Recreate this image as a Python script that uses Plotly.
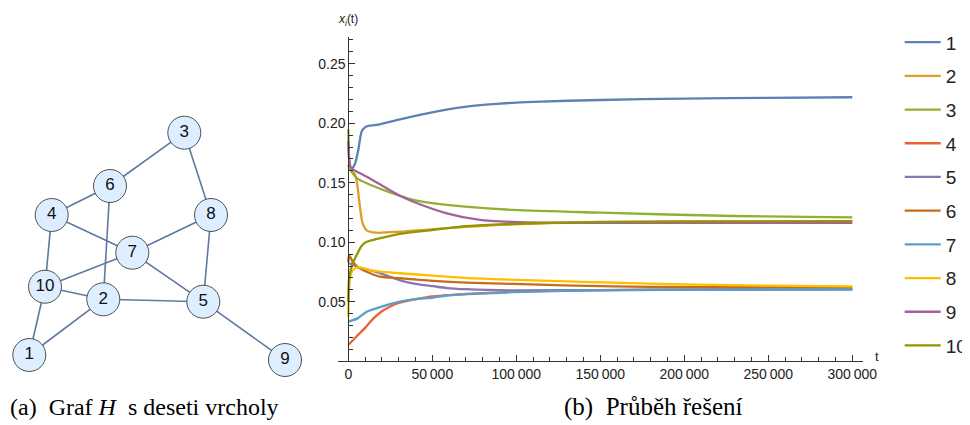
import plotly.graph_objects as go

# ---------------- data: graph H ----------------
node_labels = ["1", "2", "3", "4", "5", "6", "7", "8", "9", "10"]
node_x = [29.3, 103.3, 184.3, 51.7, 203.3, 110.0, 132.3, 211.0, 285.0, 45.0]
node_y = [355.0, 299.3, 132.7, 215.0, 301.7, 186.0, 252.7, 215.0, 360.0, 286.7]
edges = [(3, 6), (3, 8), (6, 4), (6, 2), (4, 7), (4, 10), (8, 7), (8, 5),
         (7, 10), (7, 5), (10, 2), (10, 1), (2, 5), (2, 1), (5, 9)]

# ---------------- data: solution x_i(t) ----------------
s1_t = [0, 2000, 4000, 5950, 7950, 9900, 12000, 16900, 30800, 50600, 70500, 90300, 110000, 150000, 200000, 250000, 300000]
s1_x = [0.165, 0.162, 0.166, 0.1775, 0.193, 0.1965, 0.1978, 0.1985, 0.2033, 0.2094, 0.2139, 0.2164, 0.218, 0.2195, 0.2207, 0.2213, 0.2218]

s2_t = [0, 1000, 2000, 3600, 4600, 5500, 6900, 8500, 10950, 16500, 30800, 50600, 70500, 90300, 120000, 150000, 200000, 300000]
s2_x = [0.165, 0.161, 0.160, 0.158, 0.154, 0.1467, 0.130, 0.116, 0.110, 0.108, 0.1088, 0.111, 0.113, 0.1145, 0.116, 0.1168, 0.1172, 0.1175]

s3_t = [0, 500, 1000, 3000, 6000, 10950, 20800, 30800, 38700, 58600, 98200, 150000, 229000, 300000]
s3_x = [0.195, 0.170, 0.162, 0.157, 0.153, 0.1495, 0.1439, 0.139, 0.1355, 0.1313, 0.1271, 0.1248, 0.1220, 0.1209]

s4_t = [0, 5000, 10000, 15000, 20000, 25000, 30000, 40000, 50000, 70000, 100000, 150000, 200000, 300000]
s4_x = [0.0136, 0.021, 0.028, 0.036, 0.042, 0.046, 0.049, 0.052, 0.0545, 0.0565, 0.0585, 0.0598, 0.0603, 0.0606]

s5_t = [0, 1000, 2600, 5500, 10950, 18900, 30800, 40000, 50600, 58600, 70000, 98200, 150000, 300000]
s5_x = [0.082, 0.082, 0.0815, 0.079, 0.0772, 0.0739, 0.068, 0.065, 0.063, 0.0615, 0.0605, 0.0595, 0.0598, 0.0603]

s6_t = [0, 500, 2600, 5500, 10950, 18900, 30800, 50600, 70000, 98200, 157700, 200000, 300000]
s6_x = [0.083, 0.0892, 0.0836, 0.0794, 0.0752, 0.071, 0.0697, 0.0675, 0.066, 0.0649, 0.0628, 0.0624, 0.062]

s7_t = [0, 5500, 10950, 18900, 30800, 38700, 50600, 58600, 90300, 98200, 157700, 200000, 300000]
s7_x = [0.0332, 0.036, 0.0416, 0.0455, 0.050, 0.052, 0.0535, 0.0552, 0.0575, 0.058, 0.0598, 0.0601, 0.0604]

s8_t = [0, 300, 800, 2000, 4000, 6000, 10950, 18900, 30800, 50600, 70000, 90300, 120000, 157700, 200000, 250000, 300000]
s8_x = [0.037, 0.055, 0.068, 0.075, 0.078, 0.079, 0.0772, 0.0752, 0.0739, 0.0719, 0.070, 0.0688, 0.0675, 0.066, 0.0645, 0.0635, 0.0628]

s9_t = [0, 500, 1500, 3000, 10950, 20800, 30800, 38700, 58600, 78400, 98200, 118000, 150000, 300000]
s9_x = [0.185, 0.170, 0.163, 0.161, 0.155, 0.147, 0.139, 0.134, 0.1243, 0.1187, 0.117, 0.1164, 0.1162, 0.1163]

s10_t = [0, 500, 1500, 2600, 5500, 8000, 10950, 16500, 30800, 50600, 70000, 90300, 120000, 150000, 200000, 300000]
s10_x = [0.050, 0.070, 0.077, 0.082, 0.0907, 0.097, 0.1004, 0.1025, 0.107, 0.1103, 0.1135, 0.115, 0.1163, 0.117, 0.1174, 0.1177]

series_names = ["1", "2", "3", "4", "5", "6", "7", "8", "9", "10"]
series_t = [s1_t, s2_t, s3_t, s4_t, s5_t, s6_t, s7_t, s8_t, s9_t, s10_t]
series_x = [s1_x, s2_x, s3_x, s4_x, s5_x, s6_x, s7_x, s8_x, s9_x, s10_x]

x_tickvals = [0, 50000, 100000, 150000, 200000, 250000, 300000]
x_ticktext = ["0", "50\u2009000", "100\u2009000", "150\u2009000", "200\u2009000", "250\u2009000", "300\u2009000"]
y_tickvals = [0.05, 0.10, 0.15, 0.20, 0.25]
y_ticktext = ["0.05", "0.10", "0.15", "0.20", "0.25"]

colors = ["#5E81B5", "#E19C24", "#8FB032", "#EB6235", "#8778B3",
          "#C56E1A", "#5D9EC7", "#FFBF00", "#A5609D", "#929600"]

# page body has an 8px margin: build the figure so screen pixel p maps to p - OFF
OFF = 8
W, H = 970 - OFF, 425 - OFF
FONT = "Liberation Sans, Arial, sans-serif"
SERIF = "Liberation Serif, Times New Roman, serif"


def px(p):
    return (p - OFF) / W


def py(p):
    return 1 - (p - OFF) / H


fig = go.Figure()

# ---- graph edges ----
ex, ey = [], []
for a, b in edges:
    ex += [node_x[a - 1], node_x[b - 1], None]
    ey += [node_y[a - 1], node_y[b - 1], None]
fig.add_trace(go.Scatter(x=ex, y=ey, mode="lines", xaxis="x2", yaxis="y2",
                         line=dict(color="#5F78A2", width=1.6), showlegend=False,
                         hoverinfo="skip"))
fig.add_trace(go.Scatter(x=node_x, y=node_y, mode="markers+text", xaxis="x2", yaxis="y2",
                         text=node_labels, textposition="middle center",
                         textfont=dict(family=FONT, size=17, color="#111"),
                         marker=dict(size=33, color="#DCEEFF", line=dict(color="#505050", width=1)),
                         showlegend=False, hoverinfo="skip"))

# ---- solution curves ----
for i in range(10):
    fig.add_trace(go.Scatter(x=series_t[i], y=series_x[i], mode="lines", name=series_names[i],
                             legendgroup=series_names[i],
                             line=dict(color=colors[i], width=2.3, shape="spline", smoothing=0.7)))

x0_px, x1_px = 338.3, 863.0
y_top_px, y_bot_px = 36.7, 360.7
t_per_px = 50000 / 84.0
t0_px = 348.3
val_per_px = 0.05 / 59.5
y005_px = 301.7

xr = [(x0_px - t0_px) * t_per_px, (x1_px - t0_px) * t_per_px]
yr = [0.05 - (y_bot_px - y005_px) * val_per_px, 0.05 + (y005_px - y_top_px) * val_per_px]

fig.update_layout(
    width=W, height=H,
    margin=dict(l=0, r=0, t=0, b=0, autoexpand=False),
    paper_bgcolor="white", plot_bgcolor="white",
    font=dict(family=FONT, size=14, color="#222"),
    xaxis=dict(domain=[px(x0_px), px(x1_px)], range=xr, anchor="y",
               showgrid=False, zeroline=False, showline=True, linecolor="#333", linewidth=1,
               tickvals=x_tickvals, ticktext=x_ticktext, ticks="inside", ticklen=6,
               tickcolor="#333", tickfont=dict(family=FONT, size=14, color="#222"),
               minor=dict(ticks="inside", ticklen=3.5, dtick=10000, tickcolor="#333", showgrid=False)),
    yaxis=dict(domain=[py(y_bot_px), py(y_top_px)], range=yr, anchor="free",
               position=px(t0_px),
               showgrid=False, zeroline=False, showline=True, linecolor="#333", linewidth=1,
               tickvals=y_tickvals, ticktext=y_ticktext, ticks="inside", ticklen=6,
               tickcolor="#333", tickfont=dict(family=FONT, size=14, color="#222"),
               minor=dict(ticks="inside", ticklen=3.5, dtick=0.01, tick0=0, tickcolor="#333", showgrid=False)),
    xaxis2=dict(domain=[px(8), px(308)], range=[8, 308], visible=False),
    yaxis2=dict(domain=[py(380), py(100)], range=[380, 100], visible=False),
    legend=dict(x=px(899.7), y=py(23.3), xanchor="left", yanchor="top",
                font=dict(family=FONT, size=19, color="#222"),
                itemwidth=36, tracegroupgap=6, bgcolor="rgba(0,0,0,0)"),
    showlegend=True,
)

fig.add_annotation(x=px(t0_px), y=py(20), xref="paper", yref="paper",
                   xanchor="center", yanchor="middle",
                   text="<i>x</i><sub><i>i</i></sub>(t)", showarrow=False,
                   font=dict(family=FONT, size=12, color="#222"))
fig.add_annotation(x=px(877), y=py(356), xref="paper", yref="paper",
                   xanchor="center", yanchor="middle",
                   text="t", showarrow=False, font=dict(family=FONT, size=13, color="#222"))
fig.add_annotation(x=px(8), y=py(407), xref="paper", yref="paper", xanchor="left", yanchor="middle",
                   text="(a)\u2002Graf <i>H</i>\u2002s deseti vrcholy", showarrow=False,
                   font=dict(family=SERIF, size=24, color="#000"))
fig.add_annotation(x=px(562), y=py(407), xref="paper", yref="paper", xanchor="left", yanchor="middle",
                   text="(b)\u2002Průběh řešení", showarrow=False,
                   font=dict(family=SERIF, size=25, color="#000"))

fig.write_html("out.html")
